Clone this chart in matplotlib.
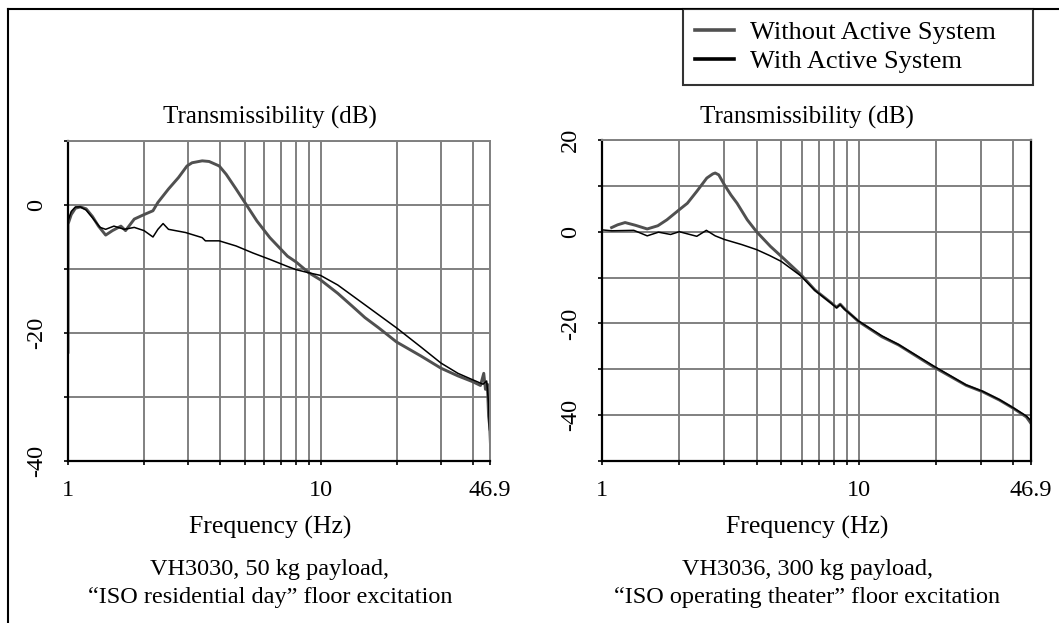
import matplotlib
matplotlib.use("Agg")
import matplotlib.pyplot as plt
from matplotlib.lines import Line2D

plt.rcParams['font.family'] = ['Liberation Serif', 'DejaVu Serif']

# left chart: VH3030, 50 kg payload
left_f_without = [1.0, 1.0, 1.03, 1.07, 1.12, 1.18, 1.25, 1.32, 1.41, 1.5, 1.62, 1.69,
                  1.83, 2.0, 2.17, 2.27, 2.5, 2.74, 2.96, 3.1, 3.4, 3.62, 3.97, 4.23,
                  4.63, 5.17, 5.6, 6.3, 7.4, 8.0, 9.0, 10, 11.7, 13.7, 15, 17, 20, 25,
                  30, 35, 40, 43, 44.3, 45, 45.8, 46.3, 46.9]
left_db_without = [-23, -3, -1.5, -0.5, -0.3, -0.6, -1.8, -3.3, -4.7, -4.0, -3.3, -4.0,
                   -2.2, -1.5, -0.9, 0.4, 2.5, 4.3, 6.1, 6.6, 6.9, 6.8, 6.1, 4.8,
                   2.5, -0.4, -2.5, -5.1, -8.0, -8.9, -10.6, -11.7, -13.8, -16.2, -17.6, -19.2, -21.4, -23.6,
                   -25.5, -26.7, -27.6, -28.2, -26.3, -28.8, -28.0, -33, -35]
left_f_with = [1.0, 1.03, 1.07, 1.12, 1.18, 1.25, 1.34, 1.41, 1.52, 1.67, 1.83, 2.0,
               2.17, 2.27, 2.38, 2.5, 2.92, 3.4, 3.5, 3.97, 4.63, 5.4, 6.3, 7.4, 8.0,
               9.0, 10, 11.7, 15, 20, 25, 30, 35, 40, 44, 45.5, 46.3, 46.9]
left_db_with = [-2.5, -1.0, -0.3, -0.3, -0.8, -2.0, -3.5, -3.8, -3.3, -3.8, -3.5, -4.0,
                -5.0, -3.8, -2.9, -3.8, -4.3, -5.1, -5.6, -5.6, -6.4, -7.5, -8.5, -9.6, -10.1,
                -10.6, -11.0, -12.5, -15.6, -19.2, -22.2, -24.7, -26.3, -27.3, -28.0, -27.5, -31, -38.6]

# right chart: VH3036, 300 kg payload
right_f_without = [1.09, 1.15, 1.23, 1.35, 1.5, 1.65, 1.79, 2.0, 2.15, 2.34, 2.56, 2.7,
                   2.76, 2.85, 3.0, 3.18, 3.36, 3.68, 4.0, 4.53, 5.0, 5.94, 6.75, 7.85,
                   8.2, 8.47, 8.8, 10, 12.3, 14.3, 19.6, 26.2, 30.4, 35.3, 40, 45, 46.9]
right_db_without = [0.9, 1.5, 2.0, 1.4, 0.6, 1.3, 2.6, 4.8, 6.2, 8.8, 11.7, 12.6,
                    12.8, 12.4, 10.2, 8.0, 6.2, 2.6, 0.0, -3.2, -5.4, -9.3, -12.7, -15.6,
                    -16.5, -15.8, -16.8, -19.6, -22.9, -24.7, -29.5, -33.5, -34.9, -36.7, -38.5, -40.4, -41.8]
right_f_with = [1.0, 1.09, 1.33, 1.5, 1.66, 1.85, 2.0, 2.34, 2.55, 2.76, 3.0, 3.5, 4.0,
                4.5, 5.0, 5.94, 6.75, 7.85, 8.2, 8.47, 8.8, 10, 12.3, 14.3, 19.6, 26.2,
                30.4, 35.3, 40, 45, 46.9]
right_db_with = [0.4, 0.2, 0.3, -0.9, -0.1, -0.6, 0.0, -1.0, 0.3, -0.9, -1.7, -2.8, -3.9,
                 -5.2, -6.5, -9.6, -12.8, -15.7, -16.6, -15.9, -16.9, -19.5, -22.7, -24.6, -29.3, -33.4,
                 -34.8, -36.6, -38.4, -40.2, -41.2]

xticks = [1, 10, 46.9]
xticklabels = ['1', '10', '46.9']
minor_x = [2, 3, 4, 5, 6, 7, 8, 9, 20, 30, 40]

W, H = 1059, 623
fig = plt.figure(figsize=(W / 100, H / 100), dpi=100)

ax1 = fig.add_axes([68 / W, 1 - 461 / H, 422 / W, 320 / H])
ax2 = fig.add_axes([602 / W, 1 - 461 / H, 429 / W, 321 / H])

gray = '#505050'
gridc = '#808080'


def setup(ax, ylo, yhi, ylabels, right_black):
    ax.set_xscale('log')
    ax.set_xlim(1, 46.9)
    ax.set_ylim(ylo, yhi)
    ax.set_xticks(xticks)
    ax.set_xticklabels(xticklabels)
    ax.set_xticks(minor_x, minor=True)
    ax.set_xticklabels([], minor=True)
    ax.set_yticks(range(ylo, yhi + 1, 10))
    ax.set_yticklabels(ylabels, rotation=90, va='center')
    ax.grid(True, which='both', axis='x', color=gridc, lw=1.4)
    ax.grid(True, which='major', axis='y', color=gridc, lw=1.4)
    ax.set_axisbelow(True)
    ax.tick_params(axis='both', which='both', direction='out', length=3, width=1.2,
                   labelsize=17.5, colors='k')
    ax.tick_params(axis='y', pad=12)
    ax.tick_params(axis='x', pad=11)
    ax.spines['left'].set_linewidth(1.6)
    ax.spines['bottom'].set_linewidth(1.6)
    ax.spines['top'].set_color(gridc)
    ax.spines['top'].set_linewidth(1.4)
    if right_black:
        ax.spines['right'].set_linewidth(1.6)
    else:
        ax.spines['right'].set_color(gridc)
        ax.spines['right'].set_linewidth(1.4)


setup(ax1, -40, 10, ['-40', '', '-20', '', '0', ''], False)
setup(ax2, -50, 20, ['', '-40', '', '-20', '', '0', '', '20'], True)

ax1.plot(left_f_without, left_db_without, color=gray, lw=2.1)
ax1.plot(left_f_with, left_db_with, color='black', lw=1.1)
ax2.plot(right_f_without, right_db_without, color=gray, lw=2.1)
ax2.plot(right_f_with, right_db_with, color='black', lw=1.1)

fs = 18
for cx, line2, line3 in [(270, 'VH3030, 50 kg payload,', '\u201cISO residential day\u201d floor excitation'),
                          (807, 'VH3036, 300 kg payload,', '\u201cISO operating theater\u201d floor excitation')]:
    fig.text(cx / W, 1 - 117 / H, 'Transmissibility (dB)', ha='center', va='center', fontsize=fs)
    fig.text(cx / W, 1 - 527 / H, 'Frequency (Hz)', ha='center', va='center', fontsize=fs + 0.5)
    fig.text(cx / W, 1 - 570 / H, line2, ha='center', va='center', fontsize=fs - 0.5)
    fig.text(cx / W, 1 - 597 / H, line3, ha='center', va='center', fontsize=fs - 0.5)

# outer frame (left and top edges only)
fig.add_artist(Line2D([8 / W, 8 / W], [0, 1 - 9 / H], transform=fig.transFigure, color='k', lw=1.5))
fig.add_artist(Line2D([8 / W, 1], [1 - 9 / H, 1 - 9 / H], transform=fig.transFigure, color='k', lw=1.5))

h1 = Line2D([], [], color=gray, lw=2.6)
h2 = Line2D([], [], color='black', lw=2.6)
leg = fig.legend([h1, h2], ['Without Active System', 'With Active System'],
                 loc='upper left', bbox_to_anchor=(683 / W, 1 - 86 / H, 350 / W, 77 / H),
                 mode='expand', borderaxespad=0, fontsize=19, frameon=True, fancybox=False,
                 edgecolor='black', handlelength=1.5, handletextpad=0.6,
                 borderpad=0.45, labelspacing=0.2)
leg.get_frame().set_linewidth(1.5)

fig.savefig('out.png', dpi=100)
